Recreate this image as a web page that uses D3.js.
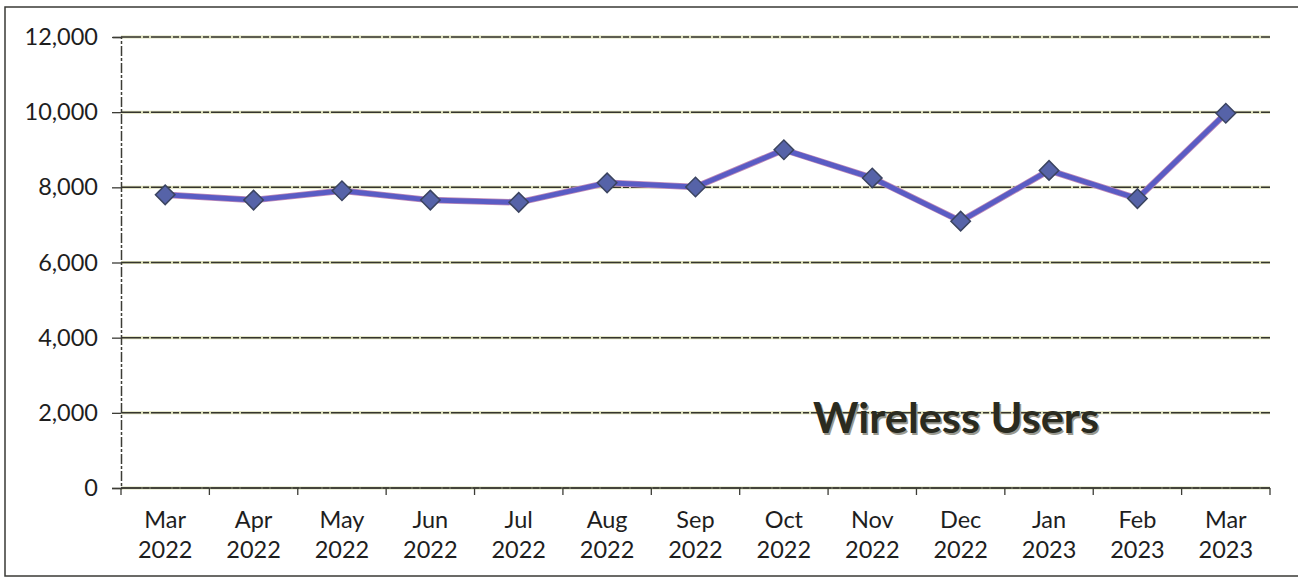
<!DOCTYPE html>
<html>
<head>
<meta charset="utf-8">
<script src="https://cdn.jsdelivr.net/npm/d3@7"></script>
<style>
  body { margin: 0; background: #fff; }
  svg { display: block; }
</style>
</head>
<body>
<div id="chart"></div>
<script>
// Wireless users per month
const months = ["Mar", "Apr", "May", "Jun", "Jul", "Aug", "Sep", "Oct", "Nov", "Dec", "Jan", "Feb", "Mar"];
const years = ["2022", "2022", "2022", "2022", "2022", "2022", "2022", "2022", "2022", "2022", "2023", "2023", "2023"];
const users = [7800, 7660, 7910, 7660, 7600, 8120, 8010, 9000, 8250, 7100, 8450, 7700, 9970];
const yTicks = [0, 2000, 4000, 6000, 8000, 10000, 12000];

const data = months.map((m, i) => ({ key: m + " " + years[i], month: m, year: years[i], users: users[i] }));

const W = 1298, H = 579;
const margin = { top: 37, right: 28, bottom: 91, left: 121 };
const width = W - margin.left - margin.right;
const height = H - margin.top - margin.bottom;
const font = "Lato, 'Open Sans', sans-serif";

const svg = d3.select("#chart")
  .append("svg")
  .attr("width", W)
  .attr("height", H);

// outer frame
svg.append("rect")
  .attr("x", 5).attr("y", 7)
  .attr("width", W + 10).attr("height", 569)
  .attr("fill", "none")
  .attr("stroke", "#3a3a36")
  .attr("stroke-width", 1.5);

const g = svg.append("g")
  .attr("transform", `translate(${margin.left},${margin.top})`);

const x = d3.scaleBand()
  .domain(data.map(d => d.key))
  .range([0, width]);

const y = d3.scaleLinear()
  .domain([0, 12000])
  .range([height, 0]);

// gridlines
const grid = g.append("g");
grid.selectAll("line.halo")
  .data(yTicks)
  .join("line")
  .attr("class", "halo")
  .attr("x1", 0).attr("x2", width)
  .attr("y1", d => y(d)).attr("y2", d => y(d))
  .attr("stroke", "#dcdfb8")
  .attr("stroke-width", 3);
grid.selectAll("line.main")
  .data(yTicks)
  .join("line")
  .attr("class", "main")
  .attr("x1", 0).attr("x2", width)
  .attr("y1", d => y(d)).attr("y2", d => y(d))
  .attr("stroke", "#35352f")
  .attr("stroke-width", 1.5)
  .attr("stroke-dasharray", "20,2,6,2");

// y axis
const yAxis = g.append("g")
  .call(d3.axisLeft(y).tickValues(yTicks).tickSize(9).tickPadding(14).tickFormat(d3.format(",")));
yAxis.select(".domain").attr("stroke", "#3c3c36").attr("stroke-width", 1.5).attr("stroke-dasharray", "10,2,3,2");
yAxis.selectAll(".tick line").attr("stroke", "#3c3c36").attr("stroke-width", 1.3);
yAxis.selectAll("text")
  .attr("font-family", font)
  .attr("font-size", "23.5px")
  .attr("fill", "#1e1e1e");

// x axis: ticks at category boundaries
const xAxis = g.append("g").attr("transform", `translate(0,${height})`);
xAxis.append("line")
  .attr("x1", 0).attr("x2", width)
  .attr("stroke", "#3c3c36").attr("stroke-width", 1.5);
xAxis.selectAll("line.tk")
  .data(data.map(d => x(d.key)).concat([width]))
  .join("line")
  .attr("class", "tk")
  .attr("x1", d => d).attr("x2", d => d)
  .attr("y1", 0).attr("y2", 7)
  .attr("stroke", "#3c3c36").attr("stroke-width", 1.3);

const xLabels = xAxis.selectAll("text")
  .data(data)
  .join("text")
  .attr("text-anchor", "middle")
  .attr("font-family", font)
  .attr("font-size", "23.5px")
  .attr("fill", "#1e1e1e");
xLabels.append("tspan").attr("y", 40).attr("x", d => x(d.key) + x.bandwidth() / 2).text(d => d.month);
xLabels.append("tspan").attr("y", 70).attr("x", d => x(d.key) + x.bandwidth() / 2).text(d => d.year);

// line
const line = d3.line()
  .x(d => x(d.key) + x.bandwidth() / 2)
  .y(d => y(d.users));

g.append("path")
  .datum(data)
  .attr("fill", "none")
  .attr("stroke", "#c08ab8")
  .attr("stroke-width", 6.5)
  .attr("stroke-linejoin", "round")
  .attr("d", line);
g.append("path")
  .datum(data)
  .attr("fill", "none")
  .attr("stroke", "#5a5cc4")
  .attr("stroke-width", 5)
  .attr("stroke-linejoin", "round")
  .attr("d", line);

// diamond markers
g.selectAll("path.marker")
  .data(data)
  .join("path")
  .attr("class", "marker")
  .attr("d", d3.symbol(d3.symbolSquare, 190))
  .attr("transform", d => `translate(${x(d.key) + x.bandwidth() / 2},${y(d.users)}) rotate(45)`)
  .attr("fill", "#5663a8")
  .attr("stroke", "#3b4460")
  .attr("stroke-width", 1.5);

// title
svg.append("text")
  .attr("x", 813).attr("y", 433)
  .attr("font-family", font)
  .attr("font-weight", "bold")
  .attr("font-size", "42px")
  .attr("textLength", 286)
  .attr("lengthAdjust", "spacingAndGlyphs")
  .attr("fill", "#9a9a90")
  .attr("transform", "translate(1.5,1.5)")
  .text("Wireless Users");
svg.append("text")
  .attr("x", 813).attr("y", 433)
  .attr("font-family", font)
  .attr("font-weight", "bold")
  .attr("font-size", "42px")
  .attr("textLength", 286)
  .attr("lengthAdjust", "spacingAndGlyphs")
  .attr("fill", "#2a2b20")
  .text("Wireless Users");
</script>
</body>
</html>
